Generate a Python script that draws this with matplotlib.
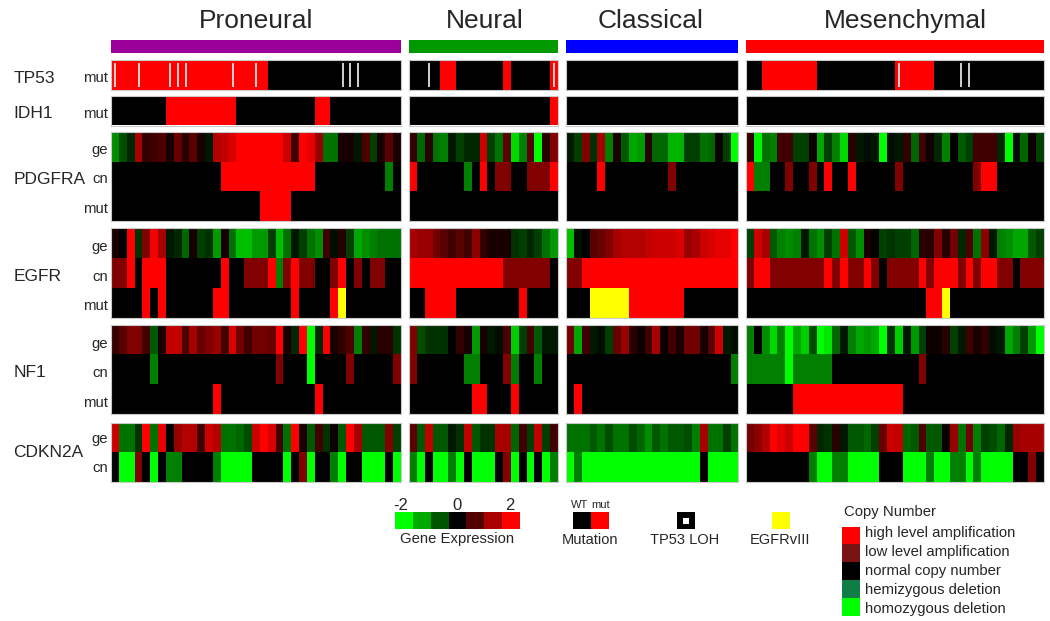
import matplotlib
matplotlib.use("Agg")
import matplotlib.pyplot as plt
import numpy as np
from matplotlib.colors import LinearSegmentedColormap, ListedColormap

plt.rcParams['font.family'] = ['Liberation Sans', 'DejaVu Sans']

W, H = 1050, 621
SUBTYPES = ["Proneural", "Neural", "Classical", "Mesenchymal"]
SUBTYPE_COLORS = ["#990099", "#009900", "#0000ff", "#ff0000"]

# gene expression: z-score -2..2; copy number: -2 homo del, -1 hemi del, 0 normal, 1 low amp, 2 high amp
# mutation: 0 WT, 2 mut, 3 EGFRvIII
TP53_MUT_P = [2,2,2,2,2,2,2,2,2,2,2,2,2,2,2,2,2,2,2,2,0,0,0,0,0,0,0,0,0,0,0,0,0,0,0,0,0]
TP53_LOH_P = [0,3,7,8,9,15,18,29,30,31]
IDH1_MUT_P = [0,0,0,0,0,0,0,2,2,2,2,2,2,2,2,2,0,0,0,0,0,0,0,0,0,0,2,2,0,0,0,0,0,0,0,0,0]
PDGFRA_GE_P = [-1.1,-.6,-.3,1.3,.4,.5,.6,.2,.8,.3,.7,.2,-.2,1.4,1.5,1.7,2,2,2,2,2,2,1.6,.5,2,1.8,1.2,-.9,-.9,.2,.2,-.2,.6,-.5,.2,.7,.2]
PDGFRA_CN_P = [0,0,0,0,0,0,0,0,0,0,0,0,0,0,2,2,2,2,2,2,2,2,2,2,2,2,0,0,0,0,0,0,0,0,0,-1,0]
PDGFRA_MUT_P = [0,0,0,0,0,0,0,0,0,0,0,0,0,0,0,0,0,0,0,2,2,2,2,0,0,0,0,0,0,0,0,0,0,0,0,0,0]
EGFR_GE_P = [.2,0,2,-.4,1,1.9,1.3,-.2,-.3,-.8,.2,-.5,-.4,-1.2,.2,-.9,-1.5,-1.5,-1.2,-1.2,-.5,-1.5,-.9,-.2,-.5,-.9,-1.1,.5,-.1,.3,-.5,-1.3,-1.1,-1,-.9,-.9,-.9]
EGFR_CN_P = [1,1,2,0,2,2,2,0,0,0,0,0,0,0,2,0,0,1,1,1,2,-1,1,2,1,1,0,0,1,2,0,1,0,1,1,0,0]
EGFR_MUT_P = [0,0,0,0,2,0,2,0,0,0,0,0,0,2,2,0,0,0,0,0,0,0,0,2,0,0,0,0,2,3,0,0,0,0,0,0,0]
NF1_GE_P = [.4,.7,1,1,.5,-.7,.2,1.5,1.5,.6,1.3,.8,1,1.2,.5,1.7,.9,.5,.9,.9,.8,2,.2,-.3,2,-2,-.3,2,.2,.4,.6,-1,.4,-.2,.3,.3,-.4]
NF1_CN_P = [0,0,0,0,0,-1,0,0,0,0,0,0,0,0,0,0,0,0,0,0,0,1,0,0,0,-2,0,0,0,0,1,0,0,0,0,0,1]
NF1_MUT_P = [0,0,0,0,0,0,0,0,0,0,0,0,0,2,0,0,0,0,0,0,0,0,0,0,0,0,2,0,0,0,0,0,0,0,0,0,0]
CDKN2A_GE_P = [1.6,-.9,-.9,-.4,2,-.9,1.8,0,1.2,1.4,1.4,.5,1.6,1.4,-.9,-.9,-.8,-.6,1.6,2,1.7,.5,-.9,2,.2,-.7,.5,-.4,.1,-.7,2,1.3,-.7,-.7,-.7,1,-.5]
CDKN2A_CN_P = [0,-2,-2,1,0,-2,0,-1,-1,0,0,0,0,-1,-2,-2,-2,-2,0,0,0,0,-2,0,1,-2,0,0,-1,-2,0,0,-2,-2,-2,0,-2]

TP53_MUT_N = [0,0,0,0,2,2,0,0,0,0,0,0,2,0,0,0,0,0,2]
TP53_LOH_N = [2,18]
IDH1_MUT_N = [0,0,0,0,0,0,0,0,0,0,0,0,0,0,0,0,0,0,2]
PDGFRA_GE_N = [.4,-.8,.3,-.9,-1,-.2,-.5,-.3,-.3,1.6,-.5,-.9,.7,-1.7,-1,.7,-2,.3,1]
PDGFRA_CN_N = [2,0,0,0,0,0,0,-1,0,2,0,1,1,0,0,1,1,1,2]
PDGFRA_MUT_N = [0,0,0,0,0,0,0,0,0,0,0,0,0,0,0,0,0,0,0]
EGFR_GE_N = [1.3,1.2,1.2,.9,.7,.5,.7,.5,1.1,.4,.2,.2,.2,-.4,-.5,-.3,-.5,-.9,-1.2]
EGFR_CN_N = [2,2,2,2,2,2,2,2,2,2,2,2,1,1,1,1,1,1,0]
EGFR_MUT_N = [0,0,2,2,2,2,0,0,0,0,0,0,0,0,2,0,0,0,0]
NF1_GE_N = [1,-.6,-.4,-.4,-.4,0,.4,.2,-1.2,.2,-.2,-.1,.6,-1.6,-.5,.5,-.7,-.2,-.2]
NF1_CN_N = [1,0,0,0,0,0,0,-1,-1,0,0,0,1,-1,0,0,-1,0,0]
NF1_MUT_N = [0,0,0,0,0,0,0,0,2,2,0,0,0,2,0,0,0,0,0]
CDKN2A_GE_N = [.7,-.7,1.5,-.7,-.7,-.2,-.4,1.5,-.7,-.4,-.4,1.3,1.3,-.8,.5,-.5,1.5,-.5,.5]
CDKN2A_CN_N = [-1,-2,0,-2,-2,-1,-2,0,-2,-2,-2,0,1,-2,0,-2,0,-2,-1]

TP53_MUT_C = [0,0,0,0,0,0,0,0,0,0,0,0,0,0,0,0,0,0,0,0,0,0]
TP53_LOH_C = []
IDH1_MUT_C = [0,0,0,0,0,0,0,0,0,0,0,0,0,0,0,0,0,0,0,0,0,0]
PDGFRA_GE_C = [-.2,-.5,1,-.4,1.3,-1,.2,-.7,-1.3,-1.2,.3,-.8,-.8,-1.4,-1.4,-.5,-.5,-.9,-.8,.1,-.5,-2]
PDGFRA_CN_C = [0,0,0,0,2,0,0,0,0,0,0,0,0,1,0,0,0,0,0,0,0,0]
PDGFRA_MUT_C = [0,0,0,0,0,0,0,0,0,0,0,0,0,0,0,0,0,0,0,0,0,0]
EGFR_GE_C = [-1.5,-.1,0,.7,.8,1,1.3,1.4,1.4,1.4,1.5,1.6,1.6,1.6,1.7,1.2,1.3,1.6,1.7,1.8,1.8,2]
EGFR_CN_C = [1,1,2,2,2,2,2,2,2,2,2,2,2,2,2,2,2,2,2,2,2,2]
EGFR_MUT_C = [0,0,0,3,3,3,3,3,2,2,2,2,2,2,2,0,0,0,0,0,0,0]
NF1_GE_C = [.9,-1.3,.5,-.2,-.1,-.5,.8,1.2,.3,.1,.5,1.3,.1,.5,.2,.9,.9,.2,.7,1.6,-.2,-.1]
NF1_CN_C = [0,0,0,0,0,0,0,0,0,0,0,0,0,0,0,0,0,0,0,0,0,-1]
NF1_MUT_C = [0,2,0,0,0,0,0,0,0,0,0,0,0,0,0,0,0,0,0,0,0,0]
CDKN2A_GE_C = [-.9,-.9,-.9,-.7,-.9,-.6,-.9,-.9,-.6,-.8,-1.1,-.7,-.9,-.7,-.7,-.6,-1,1.3,-.9,-.9,-.5,-.9]
CDKN2A_CN_C = [-2,-1,-2,-2,-2,-2,-2,-2,-2,-2,-2,-2,-2,-2,-2,-2,-2,0,-2,-2,-2,-2]

TP53_MUT_M = [0,0,2,2,2,2,2,2,2,0,0,0,0,0,0,0,0,0,0,2,2,2,2,2,0,0,0,0,0,0,0,0,0,0,0,0,0,0]
TP53_LOH_M = [19,27,28]
IDH1_MUT_M = [0,0,0,0,0,0,0,0,0,0,0,0,0,0,0,0,0,0,0,0,0,0,0,0,0,0,0,0,0,0,0,0,0,0,0,0,0,0]
PDGFRA_GE_M = [.4,-1.9,-.9,-1,.5,.5,-.5,-.5,.1,-1.3,-.5,-1,-1.7,.3,-.2,-.1,-.2,-2,-.1,-.2,.4,-.8,.5,.1,-.3,-1,0,-.7,-.5,.5,.5,.5,-.3,-2,-.1,-.8,.1,-.5]
PDGFRA_CN_M = [2,-1,-1,0,0,1,0,0,1,0,2,0,0,2,0,0,0,0,0,1,0,0,0,0,0,0,0,0,0,1,2,2,0,0,0,0,0,0]
PDGFRA_MUT_M = [0,0,0,0,0,0,0,0,0,0,0,0,0,0,0,0,0,0,0,0,0,0,0,0,0,0,0,0,0,0,0,0,0,0,0,0,0,0]
EGFR_GE_M = [-.5,1.6,1.3,-.7,-1,-1.1,-1,-.2,-.9,-1.1,-.5,-.9,1.6,-.7,-1.1,.2,0,-.5,-.4,-.5,-.5,-.8,.3,.3,1,.3,.9,-.3,.6,-.9,1.1,-.2,-1,-1.1,-1.3,-1.3,-.7,-.5]
EGFR_CN_M = [1,2,2,1,1,1,1,1,1,1,2,1,2,1,1,2,1,0,1,1,1,1,2,1,2,2,2,1,2,1,2,2,1,1,0,1,1,1]
EGFR_MUT_M = [0,0,0,0,0,0,0,0,0,0,0,0,0,0,0,0,0,0,0,0,0,0,0,2,2,3,0,0,0,0,0,0,0,0,0,0,0,0]
NF1_GE_M = [-1,0,-1.1,-1.7,-1,-2,-1.3,-1.6,-.6,-2,-1.8,-.8,-.2,-1,-1.3,-1.2,-1.3,-2,-.4,-1.6,-.2,-1.2,-.5,.1,.1,.3,-.5,-.2,.5,.2,.4,-.1,-.2,-1.3,-1,-.5,-1.2,-2]
NF1_CN_M = [-1,-1,-1,-1,-1,-2,-1,-1,-1,-1,-1,0,0,0,0,0,0,0,0,0,0,0,1,0,0,0,0,0,0,0,0,0,0,0,0,0,0,0]
NF1_MUT_M = [0,0,0,0,0,0,2,2,2,2,2,2,2,2,2,2,2,2,2,2,0,0,0,0,0,0,0,0,0,0,0,0,0,0,0,0,0,0]
CDKN2A_GE_M = [.9,1.1,1.4,2,1.8,1.6,2,2,.7,-.3,-.4,.3,-.2,-.7,-.7,-.8,-.5,.8,1.6,1.5,-.8,-.7,.6,-.7,-.7,.1,1.2,-.9,.9,-1,-.5,-.6,-.8,-.3,1.2,1.3,1.3,1.3]
CDKN2A_CN_M = [0,0,0,0,0,0,0,0,-1,-2,-2,-1,-1,-2,-2,-2,-2,0,0,0,-2,-2,-2,-1,-2,-2,-1,-1,-2,-1,-2,-2,-2,-2,0,0,1,0]

GE_LEGEND = [-2, -4/3, -2/3, 0, 2/3, 4/3, 2]
MUT_LEGEND = [0, 2]
CN_LABELS = ["high level amplification", "low level amplification", "normal copy number",
             "hemizygous deletion", "homozygous deletion"]
CN_COLORS = ["#ff0000", "#7a1414", "#000000", "#0f7d46", "#00ff00"]

TP53_BLOCKS = [TP53_MUT_P, TP53_MUT_N, TP53_MUT_C, TP53_MUT_M]
LOH_BLOCKS = [TP53_LOH_P, TP53_LOH_N, TP53_LOH_C, TP53_LOH_M]
IDH1_BLOCKS = [IDH1_MUT_P, IDH1_MUT_N, IDH1_MUT_C, IDH1_MUT_M]
PDGFRA_BLOCKS = [[PDGFRA_GE_P, PDGFRA_CN_P, PDGFRA_MUT_P], [PDGFRA_GE_N, PDGFRA_CN_N, PDGFRA_MUT_N],
                 [PDGFRA_GE_C, PDGFRA_CN_C, PDGFRA_MUT_C], [PDGFRA_GE_M, PDGFRA_CN_M, PDGFRA_MUT_M]]
EGFR_BLOCKS = [[EGFR_GE_P, EGFR_CN_P, EGFR_MUT_P], [EGFR_GE_N, EGFR_CN_N, EGFR_MUT_N],
               [EGFR_GE_C, EGFR_CN_C, EGFR_MUT_C], [EGFR_GE_M, EGFR_CN_M, EGFR_MUT_M]]
NF1_BLOCKS = [[NF1_GE_P, NF1_CN_P, NF1_MUT_P], [NF1_GE_N, NF1_CN_N, NF1_MUT_N],
              [NF1_GE_C, NF1_CN_C, NF1_MUT_C], [NF1_GE_M, NF1_CN_M, NF1_MUT_M]]
CDKN2A_BLOCKS = [[CDKN2A_GE_P, CDKN2A_CN_P], [CDKN2A_GE_N, CDKN2A_CN_N],
                 [CDKN2A_GE_C, CDKN2A_CN_C], [CDKN2A_GE_M, CDKN2A_CN_M]]

# ---- layout (pixels) ----
COL_X = [(111.3, 401.3), (409.0, 558.0), (565.7, 738.3), (746.0, 1043.7)]
TEXT_COLOR = "#262626"
EDGE = "#c9c9c9"

cmap = LinearSegmentedColormap.from_list("gbr", ["#00ff00", "#000000", "#ff0000"], N=256)
cmap.set_over("#ffff00")

fig = plt.figure(figsize=(W / 100, H / 100), dpi=100, facecolor="white")


def px_axes(x0, x1, y0, y1):
    ax = fig.add_axes([x0 / W, 1 - y1 / H, (x1 - x0) / W, (y1 - y0) / H])
    ax.set_xticks([])
    ax.set_yticks([])
    return ax


def heat(x0, x1, y0, y1, rows, edge=EDGE):
    ax = px_axes(x0, x1, y0, y1)
    ax.imshow(np.array(rows, dtype=float), cmap=cmap, vmin=-2, vmax=2, aspect="auto", interpolation="nearest")
    for s in ax.spines.values():
        s.set_color(edge)
        s.set_linewidth(0.8)
    return ax


def label(x, y, s, size, ha="center", **kw):
    # y is the text baseline in pixels
    fig.text(x / W, 1 - y / H, s, fontsize=size, ha=ha, va="baseline", color=TEXT_COLOR, **kw)


# subtype headers
TITLE_X = [256.3, 484.3, 651.0, 905.0]
for name, color, (x0, x1), tx in zip(SUBTYPES, SUBTYPE_COLORS, COL_X, TITLE_X):
    ax = px_axes(x0, x1, 39.7, 52.7)
    ax.set_facecolor(color)
    for s in ax.spines.values():
        s.set_visible(False)
    label(tx, 28.3, name, 19)

# heat panels
for i, (x0, x1) in enumerate(COL_X):
    ax = heat(x0, x1, 60.3, 89.8, [TP53_BLOCKS[i]])
    if LOH_BLOCKS[i]:
        ax.vlines(LOH_BLOCKS[i], -0.4, 0.4, color="white", lw=1.15)
        ax.set_ylim(0.5, -0.5)
    heat(x0, x1, 96.0, 125.5, [IDH1_BLOCKS[i]])
    heat(x0, x1, 132.0, 221.0, PDGFRA_BLOCKS[i])
    heat(x0, x1, 228.3, 317.7, EGFR_BLOCKS[i])
    heat(x0, x1, 325.0, 414.3, NF1_BLOCKS[i])
    heat(x0, x1, 423.0, 482.3, CDKN2A_BLOCKS[i])

# row labels
GENE_LABELS = [("TP53", 82.7), ("IDH1", 118.3), ("PDGFRA", 184), ("EGFR", 280.7), ("NF1", 377.3), ("CDKN2A", 456.7)]
for g, y in GENE_LABELS:
    label(13.3, y, g, 12.5, ha="left")
ROW_LABELS = [("mut", 82.3), ("mut", 118), ("ge", 154), ("cn", 183.3), ("mut", 213.3),
              ("ge", 251), ("cn", 280.7), ("mut", 310.3), ("ge", 347.7), ("cn", 377), ("mut", 406.7),
              ("ge", 442.7), ("cn", 472.3)]
for s, y in ROW_LABELS:
    label(108, y, s, 10.7, ha="right")

# gene expression legend
ax = px_axes(395, 520, 512, 529)
ax.imshow([GE_LEGEND], cmap=cmap, vmin=-2, vmax=2, aspect="auto", interpolation="nearest")
ax.axis("off")
for x, s in [(401, "-2"), (457, "0"), (510, "2")]:
    label(x, 510, s, 12)
label(457, 543.5, "Gene Expression", 10.7)

# mutation legend
ax = px_axes(573, 609, 512, 529)
ax.imshow([MUT_LEGEND], cmap=cmap, vmin=-2, vmax=2, aspect="auto", interpolation="nearest")
ax.axis("off")
label(580, 508.3, "WT", 8)
label(601, 508.3, "mut", 8)
label(590, 543.5, "Mutation", 10.5)

# TP53 LOH legend
ax = px_axes(677, 695, 512, 529)
ax.set_facecolor("black")
for s in ax.spines.values():
    s.set_visible(False)
ax = px_axes(683, 689, 518, 523.5)
ax.set_facecolor("white")
for s in ax.spines.values():
    s.set_visible(False)
label(684.5, 543.5, "TP53 LOH", 10.5)

# EGFRvIII legend
ax = px_axes(771.6, 789.5, 512, 529)
ax.set_facecolor("#ffff00")
for s in ax.spines.values():
    s.set_visible(False)
label(780, 543.5, "EGFRvIII", 10.5)

# copy number legend
label(843.5, 516, "Copy Number", 10.7, ha="left")
ax = px_axes(842.4, 860.4, 526.7, 616)
ax.imshow(np.arange(len(CN_COLORS)).reshape(-1, 1), cmap=ListedColormap(CN_COLORS), aspect="auto", interpolation="nearest")
ax.axis("off")
for s, y in zip(CN_LABELS, [537.3, 556, 575, 594, 612.7]):
    label(865, y, s, 10.7, ha="left")

fig.savefig("out.png", dpi=100, facecolor="white")
